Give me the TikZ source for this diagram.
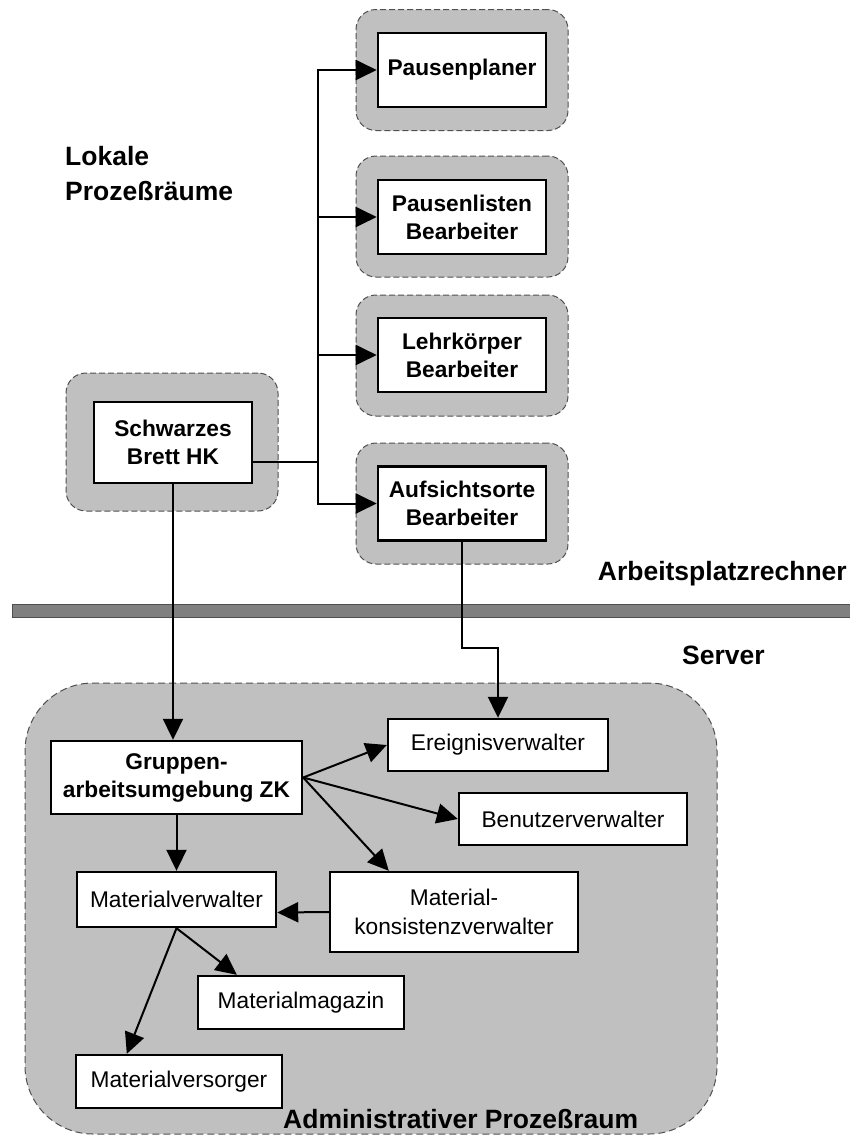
\documentclass[tikz,border=0pt]{standalone}
\usepackage{fontspec}
\setmainfont{Liberation Sans}
\usetikzlibrary{arrows.meta}
\definecolor{panelgray}{HTML}{C0C0C0}
\definecolor{bargray}{HTML}{808080}
\definecolor{baredge}{HTML}{505050}
\definecolor{dashgray}{HTML}{505050}

\begin{document}
\begin{tikzpicture}[x=1pt,y=-1pt,
  region/.style={fill=panelgray, draw=dashgray, line width=1pt,
    dash pattern=on 6pt off 3pt, rounded corners=20pt,
    minimum width=212pt, minimum height=121pt, inner sep=0pt},
  topbox/.style={fill=white, draw=black, line width=2.6pt,
    minimum width=168pt, minimum height=74pt, inner sep=0pt, align=center,
    font=\fontsize{22.7}{28}\selectfont\bfseries},
  compbox/.style={fill=white, draw=black, line width=2.4pt,
    inner sep=0pt, align=center, font=\fontsize{22.7}{29}\selectfont},
  header/.style={inner sep=0pt, font=\fontsize{26.5}{35}\selectfont\bfseries},
  link/.style={line width=2pt, draw=black},
  arrow/.style={link, -{Triangle[length=21pt,width=20pt]}}
]
\useasboundingbox (0,0) rectangle (850,1135);

% --- workstation side: local process spaces ---
\node[region] (ppbg) at (462,70) {};
\node[region] (plbg) at (462,216.5) {};
\node[region] (lkbg) at (462,355.5) {};
\node[region] (asbg) at (462,503.5) {};
\node[region, minimum height=138pt] (sbbg) at (172,442) {};

\node[topbox] (pp) at (462,70) {Pausenplaner};
\node[topbox] (pl) at (462,217) {Pausenlisten\\Bearbeiter};
\node[topbox] (lk) at (462,355) {Lehrkörper\\Bearbeiter};
\node[topbox] (as) at (462,503.5) {Aufsichtsorte\\Bearbeiter};
\node[topbox, minimum width=158pt, minimum height=81pt] (sb) at (173,442.5) {Schwarzes\\Brett HK};

\node[header, anchor=north west, align=left] (lokal) at (65,146) {Lokale\\Prozeßräume};

% --- separator between workstation and server ---
\node[header, anchor=base east] (apr) at (847,580) {Arbeitsplatzrechner};
\node[fill=bargray, draw=baredge, line width=1pt, minimum width=838pt,
      minimum height=13pt, inner sep=0pt] (bar) at (431,610.5) {};
\node[header, anchor=base west] (srv) at (682,664) {Server};

% --- server side: administrative process space ---
\node[region, rounded corners=68pt, dash pattern=on 7pt off 4pt,
      minimum width=692pt, minimum height=451pt] (admin) at (371,908.5) {};
\node[header, anchor=base west] (adminlbl) at (283,1128) {Administrativer Prozeßraum};

\node[compbox, minimum width=251pt, minimum height=73pt,
      font=\fontsize{22.7}{28}\selectfont\bfseries] (grp) at (176.5,777.5) {Gruppen-\\arbeitsumgebung ZK};
\node[compbox, minimum width=220pt, minimum height=52pt] (erg) at (498,745) {Ereignisverwalter};
\node[compbox, minimum width=228pt, minimum height=52pt] (ben) at (573,819) {Benutzerverwalter};
\node[compbox, minimum width=199pt, minimum height=55pt] (mv) at (176.5,899.5) {Materialverwalter};
\node[compbox, minimum width=248pt, minimum height=80pt] (kons) at (454,912) {Material-\\konsistenzverwalter};
\node[compbox, minimum width=206pt, minimum height=53pt] (mag) at (301,1002.5) {Materialmagazin};
\node[compbox, minimum width=206pt, minimum height=53pt] (vers) at (179,1081.5) {Materialversorger};

% --- connectors: bulletin board to local editors ---
\coordinate (jn) at (318,462);
\draw[link] ([yshift=-19.5pt]sb.east) -- (jn);
\draw[arrow] (jn) |- (pp.west);
\draw[arrow] (jn) |- (pl.west);
\draw[arrow] (jn) |- (lk.west);
\draw[arrow] (jn) |- (as.west);

% --- connectors crossing to the server ---
\draw[arrow] (sb.south) -- (sb.south |- grp.north);
\draw[arrow] (as.south) -- (as.south |- 0,648) -| (erg.north);

% --- connectors inside the administrative space ---
\draw[arrow] (grp.east) -- (erg.west);
\draw[arrow] (grp.east) -- (ben.west);
\draw[arrow] (grp.east) -- ([xshift=60pt]kons.north west);
\draw[arrow] (grp.south) -- (mv.north);
\draw[arrow] (kons.west) -- ([yshift=-13pt]mv.east);
\draw[arrow] (mv.south) -- ([xshift=40pt]mag.north west);
\draw[arrow] (mv.south) -- ([xshift=52pt]vers.north west);
\end{tikzpicture}
\end{document}
